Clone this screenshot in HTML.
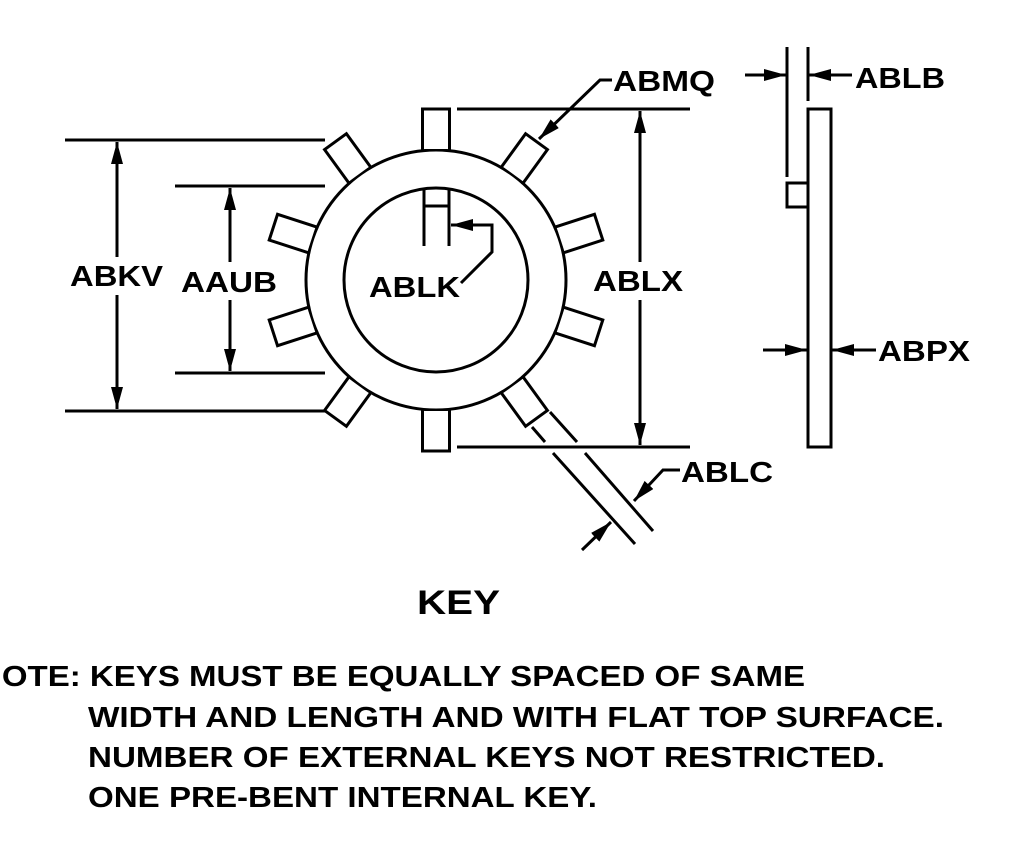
<!DOCTYPE html>
<html><head><style>html,body{margin:0;padding:0;background:#fff;}svg{display:block}</style></head>
<body>
<svg width="1024" height="859" viewBox="0 0 1024 859" xmlns="http://www.w3.org/2000/svg">
<defs>
<marker id="a" markerUnits="userSpaceOnUse" markerWidth="24" markerHeight="14" refX="22" refY="6" orient="auto">
<path d="M0,0 L22,6 L0,12 Z" fill="#000"/></marker>
<g id="tooth">
<rect x="-12" y="-171" width="24" height="40" fill="#fff"/>
<polyline points="-13.5,-128 -13.5,-171 13.5,-171 13.5,-128" fill="none" stroke="#000" stroke-width="3"/>
</g>
</defs>
<g stroke="#000" stroke-width="3" fill="none">
<circle cx="436" cy="280" r="130"/>
<circle cx="436" cy="280" r="92"/>
</g>
<g transform="translate(436,280)">
<use href="#tooth"/>
<use href="#tooth" transform="rotate(36)"/>
<use href="#tooth" transform="rotate(72)"/>
<use href="#tooth" transform="rotate(108)"/>
<use href="#tooth" transform="rotate(144)"/>
<use href="#tooth" transform="rotate(180)"/>
<use href="#tooth" transform="rotate(216)"/>
<use href="#tooth" transform="rotate(252)"/>
<use href="#tooth" transform="rotate(288)"/>
<use href="#tooth" transform="rotate(324)"/>
</g>
<g stroke="#000" stroke-width="3" fill="none">
<line x1="424" y1="188" x2="424" y2="246"/>
<line x1="449" y1="188" x2="449" y2="246"/>
<line x1="424" y1="206" x2="449" y2="206"/>
<polyline points="461,283 492,252 492,225 451,225" marker-end="url(#a)"/>
<line x1="65" y1="140" x2="325" y2="140"/>
<line x1="65" y1="411" x2="325" y2="411"/>
<line x1="175" y1="186" x2="325" y2="186"/>
<line x1="175" y1="373" x2="325" y2="373"/>
<line x1="117" y1="257" x2="117" y2="142" marker-end="url(#a)"/>
<line x1="117" y1="295" x2="117" y2="409" marker-end="url(#a)"/>
<line x1="230" y1="262" x2="230" y2="188" marker-end="url(#a)"/>
<line x1="230" y1="300" x2="230" y2="371" marker-end="url(#a)"/>
<line x1="457" y1="109" x2="690" y2="109"/>
<line x1="457" y1="447" x2="690" y2="447"/>
<line x1="640" y1="262" x2="640" y2="111" marker-end="url(#a)"/>
<line x1="640" y1="300" x2="640" y2="445" marker-end="url(#a)"/>
<polyline points="612,80 600,80 539,139" marker-end="url(#a)"/>
<line x1="532" y1="427" x2="545" y2="442"/>
<line x1="550" y1="412" x2="577" y2="442"/>
<line x1="553" y1="453" x2="635" y2="544"/>
<line x1="585" y1="453" x2="653" y2="531"/>
<polyline points="680,470 663,470 634,501" marker-end="url(#a)"/>
<line x1="582" y1="550" x2="611" y2="522" marker-end="url(#a)"/>
<line x1="787" y1="47" x2="787" y2="177"/>
<line x1="808" y1="47" x2="808" y2="101"/>
<rect x="808" y="109" width="23" height="338"/>
<polyline points="808,183 787,183 787,207 808,207"/>
<line x1="745" y1="75" x2="786" y2="75" marker-end="url(#a)"/>
<line x1="852" y1="75" x2="809" y2="75" marker-end="url(#a)"/>
<line x1="763" y1="350" x2="807" y2="350" marker-end="url(#a)"/>
<line x1="876" y1="350" x2="832" y2="350" marker-end="url(#a)"/>
</g>
<g font-family="Liberation Sans, Arial, sans-serif" font-weight="bold" font-size="29" fill="#000">
<text x="70" y="286" textLength="93" lengthAdjust="spacingAndGlyphs">ABKV</text>
<text x="181" y="292" textLength="96" lengthAdjust="spacingAndGlyphs">AAUB</text>
<text x="369" y="297" textLength="91" lengthAdjust="spacingAndGlyphs">ABLK</text>
<text x="593" y="291" textLength="90" lengthAdjust="spacingAndGlyphs">ABLX</text>
<text x="613" y="91" textLength="102" lengthAdjust="spacingAndGlyphs">ABMQ</text>
<text x="855" y="88" textLength="90" lengthAdjust="spacingAndGlyphs">ABLB</text>
<text x="878" y="361" textLength="92" lengthAdjust="spacingAndGlyphs">ABPX</text>
<text x="681" y="482" textLength="92" lengthAdjust="spacingAndGlyphs">ABLC</text>
<text x="417" y="614" font-size="34" textLength="83" lengthAdjust="spacingAndGlyphs">KEY</text>
<text x="-22" y="686" textLength="827" lengthAdjust="spacingAndGlyphs">NOTE: KEYS MUST BE EQUALLY SPACED OF SAME</text>
<text x="88" y="727" textLength="856" lengthAdjust="spacingAndGlyphs">WIDTH AND LENGTH AND WITH FLAT TOP SURFACE.</text>
<text x="88" y="767" textLength="797" lengthAdjust="spacingAndGlyphs">NUMBER OF EXTERNAL KEYS NOT RESTRICTED.</text>
<text x="88" y="807" textLength="509" lengthAdjust="spacingAndGlyphs">ONE PRE-BENT INTERNAL KEY.</text>
</g>
</svg>
</body></html>
